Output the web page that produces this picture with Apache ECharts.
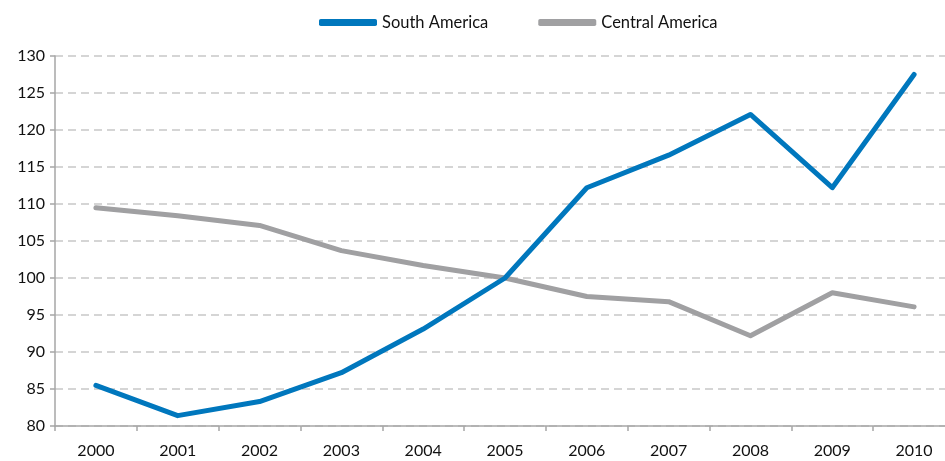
<!DOCTYPE html>
<html>
<head>
<meta charset="utf-8">
<script src="https://cdn.jsdelivr.net/npm/echarts@6/dist/echarts.min.js"></script>
<style>
  html, body { margin: 0; padding: 0; background: #fff; }
  #chart { width: 945px; height: 461px; }
</style>
</head>
<body>
<div id="chart"></div>
<script>
// Yearly index values for the two regions
const years = ['2000', '2001', '2002', '2003', '2004', '2005', '2006', '2007', '2008', '2009', '2010'];
const southAmerica = [85.5, 81.4, 83.3, 87.2, 93.1, 100, 112.2, 116.6, 122.1, 112.2, 127.5];
const centralAmerica = [109.5, 108.4, 107.1, 103.7, 101.7, 100, 97.5, 96.8, 92.2, 98.0, 96.1];
const yTicks = { min: 80, max: 130, interval: 5 };

const FONT = 'Lato';
const chart = echarts.init(document.getElementById('chart'), null, { renderer: 'canvas' });

chart.setOption({
  animation: false,
  backgroundColor: '#ffffff',
  textStyle: { fontFamily: FONT },
  legend: {
    top: 9,
    left: 314,
    itemGap: 50,
    itemWidth: 58,
    itemHeight: 7,
    icon: 'roundRect',
    textStyle: { fontFamily: FONT, fontSize: 16.5, color: '#111' },
    data: ['South America', 'Central America']
  },
  // plot area runs slightly past the right edge of the canvas
  grid: { left: 55, width: 900, top: 56, bottom: 35, containLabel: false, outerBoundsMode: 'none' },
  xAxis: {
    type: 'category',
    data: years,
    boundaryGap: true,
    axisLine: { lineStyle: { color: '#a6a6a6', width: 1.5 } },
    axisTick: { show: true, length: 5, lineStyle: { color: '#a6a6a6', width: 1.5 } },
    axisLabel: { margin: 17, fontFamily: FONT, fontSize: 16, color: '#111' },
    splitLine: { show: false }
  },
  yAxis: {
    type: 'value',
    min: yTicks.min,
    max: yTicks.max,
    interval: yTicks.interval,
    axisLine: { show: true, lineStyle: { color: '#a6a6a6', width: 1.5 } },
    axisTick: { show: true, length: 5, lineStyle: { color: '#a6a6a6', width: 1.5 } },
    axisLabel: { margin: 10, fontFamily: FONT, fontSize: 16, color: '#111' },
    splitLine: { show: true, lineStyle: { color: '#c8c8c8', width: 1.5, type: [8, 5] } }
  },
  series: [
    {
      name: 'South America',
      type: 'line',
      data: southAmerica,
      symbol: 'none',
      color: '#0077bd',
      lineStyle: { width: 5, color: '#0077bd', cap: 'round', join: 'round' },
      z: 3
    },
    {
      name: 'Central America',
      type: 'line',
      data: centralAmerica,
      symbol: 'none',
      color: '#a0a0a2',
      lineStyle: { width: 5, color: '#a0a0a2', cap: 'round', join: 'round' },
      z: 2
    }
  ]
});
</script>
</body>
</html>
